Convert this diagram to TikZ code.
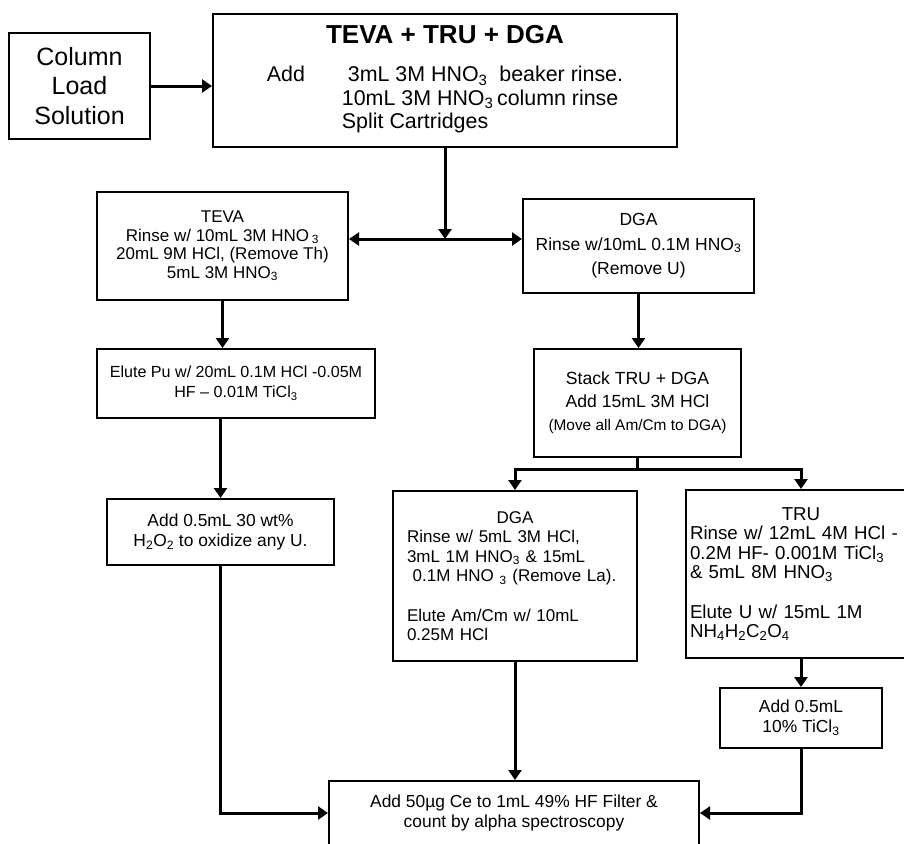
\documentclass[tikz,border=0pt]{standalone}
\usepackage{fontspec}
\setmainfont{Liberation Sans}
\usetikzlibrary{arrows.meta,positioning}

\begin{document}
\begin{tikzpicture}[
  x=1pt, y=-1pt,
  font=\fontsize{17.4}{20}\selectfont,
  box/.style={draw, line width=2pt, align=center, inner sep=2pt},
  line/.style={line width=3pt},
  arrow/.style={-{Triangle[length=10pt,width=13pt]}, line width=3pt},
  dblarrow/.style={{Triangle[length=10pt,width=13pt]}-{Triangle[length=10pt,width=13pt]}, line width=3pt},
]
\clip (0,0) rectangle (904,843);

% ===== Loading and the stacked cartridges =====
\node[box, minimum width=141pt, minimum height=105pt, font=\fontsize{25}{29.5}\selectfont] (load) at (79.5,86) {Column\\Load\\Solution};

\node[box, minimum width=464pt, minimum height=133pt, font=\fontsize{21.4}{23.5}\selectfont] (top) at (445,80.5)
  {{\fontsize{26}{30}\selectfont\bfseries TEVA + TRU + DGA}\\[15pt]
   \begin{tabular}[t]{@{}l@{\hspace{37pt}}l@{}}
   Add & \ 3mL 3M HNO\textsubscript{3}\ \ beaker rinse.\\
       & 10mL 3M HNO\textsubscript{3}\,column rinse\\
       & Split Cartridges
   \end{tabular}};
\draw[arrow] (load.east) -- (load.east -| top.west);

% split the cartridges
\coordinate (split) at (445,239);
\node[box, minimum width=251pt, minimum height=108pt, font=\fontsize{17}{18.5}\selectfont] (teva) at (222.5,246)
  {TEVA\\Rinse w/ 10mL 3M HNO\,\textsubscript{3}\\20mL 9M HCl, (Remove Th)\\5mL 3M HNO\textsubscript{3}};
\node[box, minimum width=231pt, minimum height=94pt, font=\fontsize{17.5}{24.5}\selectfont] (dga) at (638.5,246)
  {DGA\\Rinse w/10mL 0.1M HNO\textsubscript{3}\\(Remove U)};
\draw[arrow] (top.south) -- (split);
\draw[dblarrow] (split -| teva.east) -- (split -| dga.west);

% ===== Left branch: Pu on TEVA =====
\node[box, minimum width=278pt, minimum height=69pt, font=\fontsize{16.1}{20}\selectfont] (elute) at (236,383.5)
  {Elute Pu w/ 20mL 0.1M HCl -0.05M\\HF \textendash{} 0.01M TiCl\textsubscript{3}};
\node[box, minimum width=227pt, minimum height=66pt] (perox) at (220.5,532)
  {Add 0.5mL 30 wt\%\\H\textsubscript{2}O\textsubscript{2} to oxidize any U.};
\draw[arrow] (teva.south) -- (teva.south |- elute.north);
\draw[arrow] (perox.north |- elute.south) -- (perox.north);

% ===== Right branch: Am/Cm and U =====
\node[box, minimum width=207pt, minimum height=108pt, font=\fontsize{17.6}{23}\selectfont] (stack) at (637.5,403)
  {Stack TRU + DGA\\Add 15mL 3M HCl\\{\fontsize{15.4}{18}\selectfont(Move all Am/Cm to DGA)}};
\draw[arrow] (dga.south) -- (dga.south |- stack.north);

\coordinate (fork) at (637.5,469);
\node[box, minimum width=244pt, minimum height=170pt, text width=216pt, align=left, font=\fontsize{17}{19.5}\selectfont] (dgab) at (515,576)
  {\hfill DGA\hfill\null\\Rinse w/ 5mL 3M HCl,\\3mL 1M HNO\textsubscript{3} \& 15mL\\\ 0.1M HNO \textsubscript{3} (Remove La).\\[20pt]Elute Am/Cm w/ 10mL\\0.25M HCl};
\node[box, minimum width=230pt, minimum height=168pt, text width=222pt, align=left, font=\fontsize{18.7}{19.5}\selectfont] (tru) at (801,574)
  {\hfill TRU\hfill\null\\Rinse w/ 12mL 4M HCl -\\0.2M HF- 0.001M TiCl\textsubscript{3}\\\& 5mL 8M HNO\textsubscript{3}\\[20pt]Elute U w/ 15mL 1M\\NH\textsubscript{4}H\textsubscript{2}C\textsubscript{2}O\textsubscript{4}};
\draw[line] (stack.south) -- (fork);
\draw[arrow] (fork) -| (dgab.north);
\draw[arrow] (fork) -| (tru.north);

\node[box, minimum width=162pt, minimum height=60pt] (ticl) at (801,718) {Add 0.5mL\\10\% TiCl\textsubscript{3}};
\draw[arrow] (tru.south) -- (ticl.north);

% ===== Counting =====
\node[box, minimum width=370pt, minimum height=64pt] (count) at (514,813)
  {Add 50µg Ce to 1mL 49\% HF Filter \&\\count by alpha spectroscopy};
\draw[arrow] (perox.south) |- (count.west);
\draw[arrow] (dgab.south) -- (dgab.south |- count.north);
\draw[arrow] (ticl.south) |- (count.east);

\end{tikzpicture}
\end{document}
